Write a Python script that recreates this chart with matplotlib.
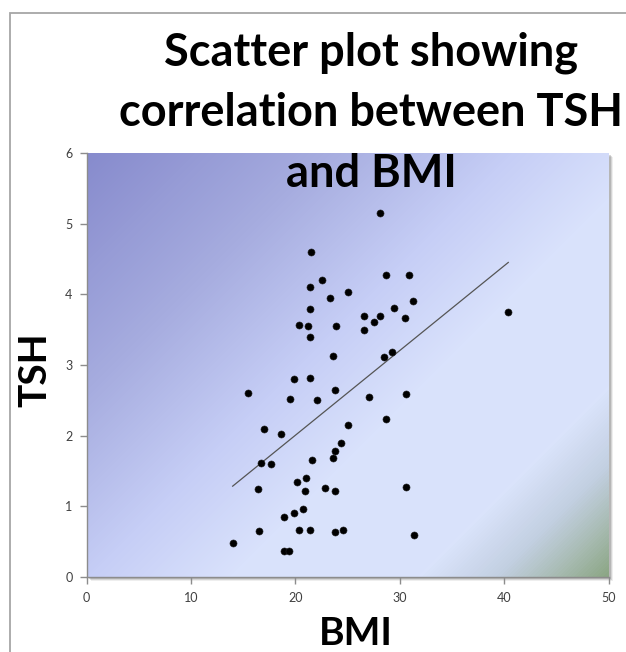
import numpy as np
import matplotlib
matplotlib.use("Agg")
import matplotlib.pyplot as plt
from matplotlib.colors import LinearSegmentedColormap
from matplotlib.patches import Rectangle

bmi = [14.0, 15.5, 16.4, 16.5, 16.7, 17.0, 17.7, 18.65, 18.9, 18.9, 19.4, 19.5,
       19.9, 19.9, 20.2, 20.4, 20.4, 20.7, 20.9, 21.05, 21.25, 21.4, 21.4, 21.4,
       21.4, 21.4, 21.5, 21.6, 22.1, 22.6, 22.8, 23.3, 23.6, 23.8, 23.6, 23.8,
       23.8, 23.8, 23.9, 24.4, 24.6, 25.0, 25.0, 26.6, 26.6, 27.1, 27.5, 28.1,
       28.1, 28.5, 28.7, 28.7, 29.3, 29.5, 30.5, 30.6, 30.6, 30.9, 31.3, 31.4, 40.4]
tsh = [0.48, 2.60, 1.24, 0.65, 1.61, 2.10, 1.60, 2.02, 0.85, 0.37, 0.37, 2.52,
       0.91, 2.80, 1.35, 0.67, 3.56, 0.96, 1.21, 1.40, 3.55, 2.81, 4.10, 3.79,
       3.39, 0.67, 4.60, 1.65, 2.51, 4.20, 1.26, 3.95, 3.13, 0.64, 1.68, 1.79,
       1.21, 2.65, 3.55, 1.90, 0.67, 2.15, 4.03, 3.69, 3.50, 2.55, 3.61, 3.70,
       5.15, 3.12, 4.27, 2.24, 3.18, 3.81, 3.66, 2.59, 1.28, 4.27, 3.90, 0.60, 3.75]

title_lines = ["Scatter plot showing", "correlation between TSH", "and BMI"]
x_ticks = [0, 10, 20, 30, 40, 50]
y_ticks = [0, 1, 2, 3, 4, 5, 6]

W, H = 626, 652
fig = plt.figure(figsize=(W / 100, H / 100), dpi=100)
fig.patch.set_facecolor("white")

L, R, T, B = 86.5, 608.5, 153, 577
ax = fig.add_axes([L / W, 1 - B / H, (R - L) / W, (B - T) / H])
ax.set_zorder(2)

# outer frame
fig.add_artist(Rectangle((9.5 / W, -0.2), 1.2, 1 - 13 / H + 0.2, transform=fig.transFigure,
                         fill=False, edgecolor="#a6a6a6", linewidth=1.3, zorder=0.1))
# plot area shadow
for off, a in [(4, 0.10), (3, 0.18), (2, 0.25)]:
    fig.add_artist(Rectangle(((L + off) / W, 1 - (B + off) / H), (R - L) / W, (B - T) / H,
                             transform=fig.transFigure, facecolor="#606060", edgecolor="none",
                             alpha=a, zorder=0.5))

# gradient background
pw, ph = int(R - L), int(B - T)
xx, yy = np.meshgrid(np.arange(pw), np.arange(ph))
t = (xx + yy) / (pw + ph)
cmap = LinearSegmentedColormap.from_list("bg", [
    (0.0, "#878bcd"), (0.25, "#a6acdf"), (0.45, "#c6cef6"), (0.6, "#d9e2fc"),
    (0.8, "#dae3fb"), (0.88, "#c3d0e2"), (0.94, "#a9bcb4"), (1.0, "#8aa583")])
ax.imshow(t, cmap=cmap, extent=[0, 50, 0, 6], aspect="auto", origin="upper",
          interpolation="bilinear", zorder=0, vmin=0, vmax=1)

ax.scatter(bmi, tsh, s=26, color="black", edgecolors="#222222", linewidths=0.4, zorder=3)

coef = np.polyfit(bmi, tsh, 1)
xs = np.array([min(bmi), max(bmi)])
ax.plot(xs, np.polyval(coef, xs), color="#555555", linewidth=0.9, zorder=2)

ax.set_xlim(0, 50)
ax.set_ylim(0, 6)
ax.set_xticks(x_ticks)
ax.set_yticks(y_ticks)
ax.set_xticklabels([str(v) for v in x_ticks])
ax.set_yticklabels([str(v) for v in y_ticks])
for s in ["top", "right"]:
    ax.spines[s].set_visible(False)
for s in ["left", "bottom"]:
    ax.spines[s].set_color("#8c8c8c")
    ax.spines[s].set_linewidth(1.0)
ax.tick_params(axis="both", direction="out", length=5, width=1, color="#8c8c8c",
               labelsize=9, labelcolor="#404040")
ax.tick_params(axis="x", pad=6)
ax.tick_params(axis="y", pad=5)
for lab in ax.get_xticklabels() + ax.get_yticklabels():
    lab.set_fontfamily("Lato")

fam = "Lato"
ys = [65, 126, 187]
for line, yb in zip(title_lines, ys):
    fig.text(371 / W, 1 - yb / H, line, ha="center", va="baseline", fontsize=32.5,
             fontweight="bold", family=fam, zorder=10)

fig.text(35 / W, 1 - 370 / H, "TSH", rotation=90, ha="center", va="center", fontsize=28,
         fontweight="bold", family=fam)
fig.text(356 / W, 1 - 651 / H, "BMI", ha="center", va="bottom", fontsize=28,
         fontweight="bold", family=fam)

fig.savefig("out.png", dpi=100)
